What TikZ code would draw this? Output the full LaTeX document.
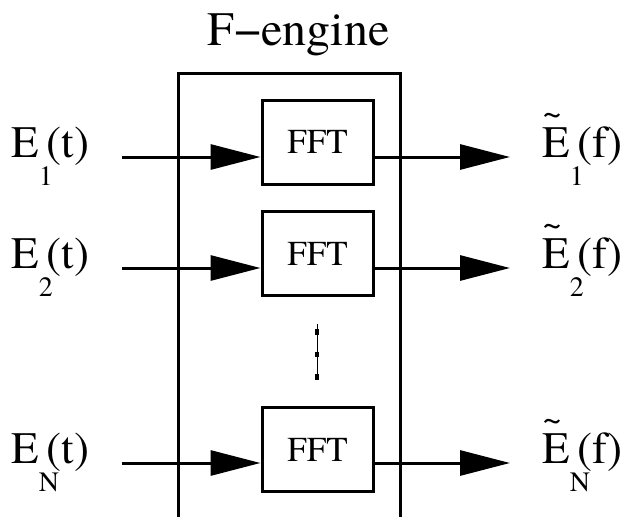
\documentclass[tikz,border=0pt]{standalone}
\usepackage{fontspec}
\setmainfont{TeX Gyre Termes}
\usetikzlibrary{arrows.meta, positioning}
\tikzstyle{engine}=[x=1pt, y=-1pt, line width=3pt, >={Triangle[length=50pt,width=25pt]}]
\tikzstyle{fftbox}=[draw, rectangle, minimum width=111pt, minimum height=84pt, inner sep=0pt, font=\fontsize{35}{35}\selectfont]
\tikzstyle{signal}=[inner sep=0pt, anchor=base west, font=\fontsize{45}{45}\selectfont]
\tikzstyle{title}=[inner sep=0pt, anchor=base, font=\fontsize{48}{48}\selectfont]
\newcommand{\subfont}{\fontsize{28}{28}\selectfont}
\newcommand{\sig}[3]{#1\rlap{\raisebox{-28pt}{\subfont #2}}\kern8pt(#3)}
\newcommand{\tildeE}{\rlap{\raisebox{32.6pt}{\fontsize{35}{35}\selectfont\textasciitilde}}E}

\begin{document}
\begin{tikzpicture}[engine]
  \useasboundingbox (0,0) rectangle (622,517);
  \node[title] (eng) at (298.5,45) {F−engine};
  \draw (178,517) -- (178,73) -- (400,73) -- (400,517);
  % FFT blocks
  \node[fftbox] (fft1) at (317.5,142) {FFT};
  \node[fftbox] (fft2) at (317.5,253.5) {FFT};
  \node[fftbox] (fftN) at (317.5,449.5) {FFT};
  % inputs and outputs
  \coordinate (in1) at (122,157);
  \coordinate (in2) at (122,268);
  \coordinate (inN) at (122,463);
  \coordinate (out1) at (510,157);
  \coordinate (out2) at (510,268);
  \coordinate (outN) at (510,463);
  \draw[->] (in1) -- (in1 -| fft1.west);
  \draw[->] (in2) -- (in2 -| fft2.west);
  \draw[->] (inN) -- (inN -| fftN.west);
  \draw[->] (fft1.east |- in1) -- (out1);
  \draw[->] (fft2.east |- in2) -- (out2);
  \draw[->] (fftN.east |- inN) -- (outN);
  % labels
  \node[signal] (e1) at (10,157) {\sig{E}{1}{t}};
  \node[signal] (e2) at (10,268) {\sig{E}{2}{t}};
  \node[signal] (eN) at (10,463) {\sig{E}{N}{t}};
  \node[signal] (f1) at (541,157) {\sig{\tildeE}{1}{f}};
  \node[signal] (f2) at (541,268) {\sig{\tildeE}{2}{f}};
  \node[signal] (fN) at (541,463) {\sig{\tildeE}{N}{f}};
  % vertical dots
  \coordinate (dtop) at (317,324);
  \coordinate (dbot) at (317,380);
  \draw[line width=1pt] (dtop) -- (dbot);
  \draw[line width=3.5pt] (317,329) -- (317,335);
  \draw[line width=3.5pt] (317,352) -- (317,357);
  \draw[line width=3.5pt] (317,374) -- (317,380);
\end{tikzpicture}
\end{document}
